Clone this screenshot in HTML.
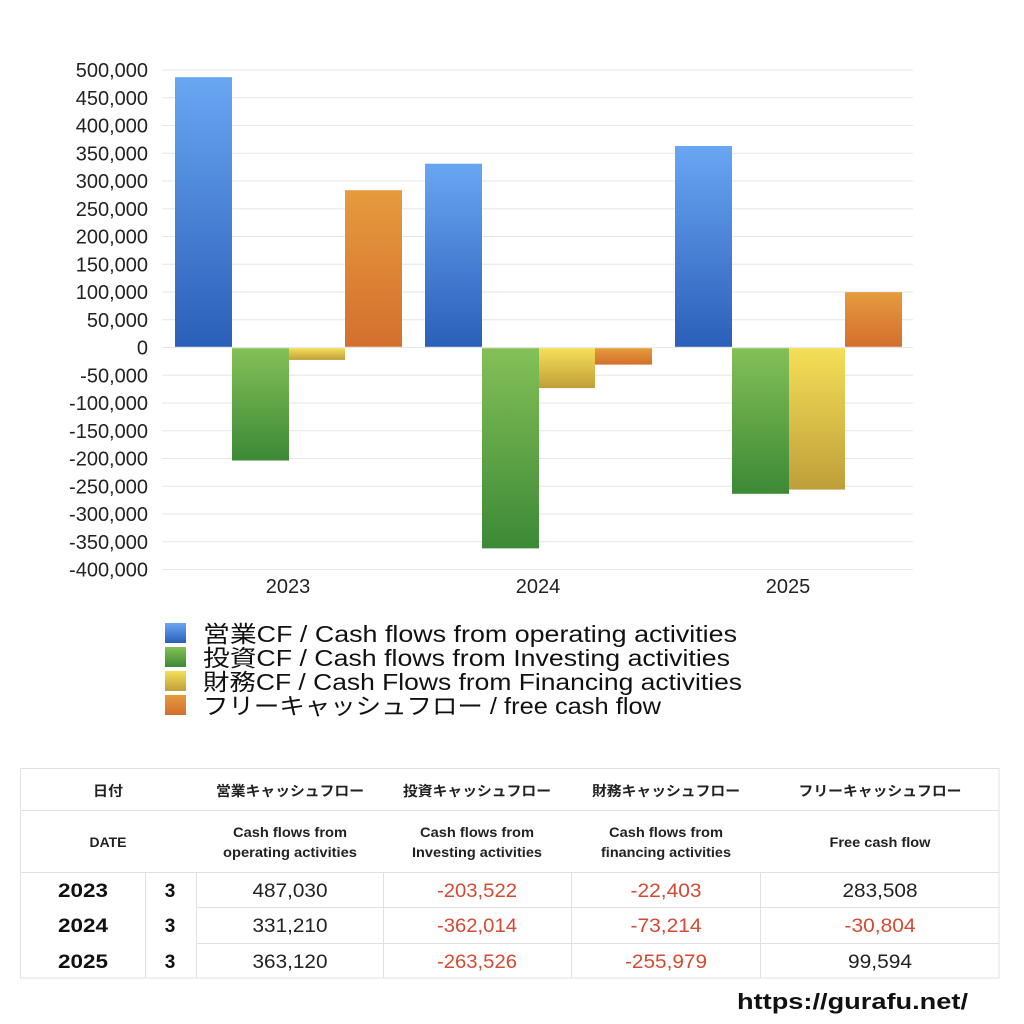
<!DOCTYPE html>
<html><head><meta charset="utf-8"><style>
html,body{margin:0;padding:0;background:#fff;}
svg{display:block;}
text{font-family:"Liberation Sans","Noto Sans CJK JP",sans-serif;}
</style></head><body>
<svg width="1024" height="1024" viewBox="0 0 1024 1024" xmlns="http://www.w3.org/2000/svg">
<defs>
<linearGradient id="gb" x1="0" y1="0" x2="0" y2="1"><stop offset="0" stop-color="#69a6f2"/><stop offset="1" stop-color="#2b5fb9"/></linearGradient>
<linearGradient id="gg" x1="0" y1="0" x2="0" y2="1"><stop offset="0" stop-color="#84c057"/><stop offset="1" stop-color="#3c8936"/></linearGradient>
<linearGradient id="gy" x1="0" y1="0" x2="0" y2="1"><stop offset="0" stop-color="#f4df57"/><stop offset="1" stop-color="#bf9f3a"/></linearGradient>
<linearGradient id="go" x1="0" y1="0" x2="0" y2="1"><stop offset="0" stop-color="#e69b3d"/><stop offset="1" stop-color="#d46f2e"/></linearGradient>
</defs>
<rect width="1024" height="1024" fill="#fff"/>
<!-- gridlines -->
<g stroke="#e6e6e6" stroke-width="1">
<line x1="162" x2="913" y1="70" y2="70"/>
<line x1="162" x2="913" y1="97.75" y2="97.75"/>
<line x1="162" x2="913" y1="125.5" y2="125.5"/>
<line x1="162" x2="913" y1="153.25" y2="153.25"/>
<line x1="162" x2="913" y1="181" y2="181"/>
<line x1="162" x2="913" y1="208.75" y2="208.75"/>
<line x1="162" x2="913" y1="236.5" y2="236.5"/>
<line x1="162" x2="913" y1="264.25" y2="264.25"/>
<line x1="162" x2="913" y1="292" y2="292"/>
<line x1="162" x2="913" y1="319.75" y2="319.75"/>
<line x1="162" x2="913" y1="347.5" y2="347.5"/>
<line x1="162" x2="913" y1="375.25" y2="375.25"/>
<line x1="162" x2="913" y1="403" y2="403"/>
<line x1="162" x2="913" y1="430.75" y2="430.75"/>
<line x1="162" x2="913" y1="458.5" y2="458.5"/>
<line x1="162" x2="913" y1="486.25" y2="486.25"/>
<line x1="162" x2="913" y1="514" y2="514"/>
<line x1="162" x2="913" y1="541.75" y2="541.75"/>
<line x1="162" x2="913" y1="569.5" y2="569.5"/>
</g>
<!-- y labels -->
<g font-size="20" fill="#222" text-anchor="end">
<text x="148" y="77">500,000</text>
<text x="148" y="104.75">450,000</text>
<text x="148" y="132.5">400,000</text>
<text x="148" y="160.25">350,000</text>
<text x="148" y="188">300,000</text>
<text x="148" y="215.75">250,000</text>
<text x="148" y="243.5">200,000</text>
<text x="148" y="271.25">150,000</text>
<text x="148" y="299">100,000</text>
<text x="148" y="326.75">50,000</text>
<text x="148" y="354.5">0</text>
<text x="148" y="382.25">-50,000</text>
<text x="148" y="410">-100,000</text>
<text x="148" y="437.75">-150,000</text>
<text x="148" y="465.5">-200,000</text>
<text x="148" y="493.25">-250,000</text>
<text x="148" y="521">-300,000</text>
<text x="148" y="548.75">-350,000</text>
<text x="148" y="576.5">-400,000</text>
</g>
<!-- bars 2023 -->
<rect x="175" y="77.2" width="57" height="269.6" fill="url(#gb)"/>
<rect x="232" y="348.2" width="57" height="112.3" fill="url(#gg)"/>
<rect x="289" y="348.2" width="56" height="11.7" fill="url(#gy)"/>
<rect x="345" y="190.2" width="57" height="156.6" fill="url(#go)"/>
<!-- bars 2024 -->
<rect x="425" y="163.7" width="57" height="183.1" fill="url(#gb)"/>
<rect x="482" y="348.2" width="57" height="200.2" fill="url(#gg)"/>
<rect x="539" y="348.2" width="56" height="39.9" fill="url(#gy)"/>
<rect x="595" y="348.2" width="57" height="16.4" fill="url(#go)"/>
<!-- bars 2025 -->
<rect x="675" y="146" width="57" height="200.8" fill="url(#gb)"/>
<rect x="732" y="348.2" width="57" height="145.6" fill="url(#gg)"/>
<rect x="789" y="348.2" width="56" height="141.4" fill="url(#gy)"/>
<rect x="845" y="292.2" width="57" height="54.6" fill="url(#go)"/>
<!-- x labels -->
<g font-size="20" fill="#222" text-anchor="middle">
<text x="288" y="593">2023</text>
<text x="538" y="593">2024</text>
<text x="788" y="593">2025</text>
</g>
<!-- legend -->
<rect x="165" y="623" width="21" height="20" fill="url(#gb)"/>
<rect x="165" y="647" width="21" height="20" fill="url(#gg)"/>
<rect x="165" y="671" width="21" height="20" fill="url(#gy)"/>
<rect x="165" y="695" width="21" height="20" fill="url(#go)"/>
<g font-size="23" fill="#111">
<text x="203" y="642" textLength="534" lengthAdjust="spacingAndGlyphs">営業CF / Cash flows from operating activities</text>
<text x="203" y="666" textLength="527" lengthAdjust="spacingAndGlyphs">投資CF / Cash flows from Investing activities</text>
<text x="203" y="690" textLength="539" lengthAdjust="spacingAndGlyphs">財務CF / Cash Flows from Financing activities</text>
<text x="203" y="714" textLength="458" lengthAdjust="spacingAndGlyphs">フリーキャッシュフロー / free cash flow</text>
</g>
<!-- table lines -->
<g stroke="#e0e0e0" stroke-width="1" fill="none">
<rect x="20.5" y="768.5" width="978.5" height="209.5"/>
<line x1="20" x2="999" y1="810.5" y2="810.5"/>
<line x1="20" x2="999" y1="872.5" y2="872.5"/>
<line x1="197" x2="999" y1="907.5" y2="907.5"/>
<line x1="197" x2="999" y1="943.5" y2="943.5"/>
<line x1="145.5" x2="145.5" y1="872" y2="978"/>
<line x1="196.5" x2="196.5" y1="872" y2="978"/>
<line x1="383.5" x2="383.5" y1="872" y2="978"/>
<line x1="571.5" x2="571.5" y1="872" y2="978"/>
<line x1="760.5" x2="760.5" y1="872" y2="978"/>
</g>
<!-- table header -->
<g font-size="14" font-weight="bold" fill="#222" text-anchor="middle">
<text x="108" y="796" textLength="30" lengthAdjust="spacingAndGlyphs">日付</text>
<text x="290" y="796" textLength="148" lengthAdjust="spacingAndGlyphs">営業キャッシュフロー</text>
<text x="477" y="796" textLength="148" lengthAdjust="spacingAndGlyphs">投資キャッシュフロー</text>
<text x="666" y="796" textLength="148" lengthAdjust="spacingAndGlyphs">財務キャッシュフロー</text>
<text x="880" y="796" textLength="163" lengthAdjust="spacingAndGlyphs">フリーキャッシュフロー</text>
</g>
<g font-size="13.5" font-weight="bold" fill="#222" text-anchor="middle">
<text x="108" y="847" textLength="37" lengthAdjust="spacingAndGlyphs">DATE</text>
<text x="290" y="837" textLength="114" lengthAdjust="spacingAndGlyphs">Cash flows from</text>
<text x="290" y="857" textLength="134" lengthAdjust="spacingAndGlyphs">operating activities</text>
<text x="477" y="837" textLength="114" lengthAdjust="spacingAndGlyphs">Cash flows from</text>
<text x="477" y="857" textLength="130" lengthAdjust="spacingAndGlyphs">Investing activities</text>
<text x="666" y="837" textLength="114" lengthAdjust="spacingAndGlyphs">Cash flows from</text>
<text x="666" y="857" textLength="130" lengthAdjust="spacingAndGlyphs">financing activities</text>
<text x="880" y="847" textLength="101" lengthAdjust="spacingAndGlyphs">Free cash flow</text>
</g>
<!-- table data -->
<g font-size="19" font-weight="bold" fill="#111" text-anchor="middle">
<text x="83" y="897" textLength="50" lengthAdjust="spacingAndGlyphs">2023</text>
<text x="83" y="932" textLength="50" lengthAdjust="spacingAndGlyphs">2024</text>
<text x="83" y="968" textLength="50" lengthAdjust="spacingAndGlyphs">2025</text>
<text x="170" y="897">3</text>
<text x="170" y="932">3</text>
<text x="170" y="968">3</text>
</g>
<g font-size="19" fill="#222" text-anchor="middle">
<text x="290" y="897" textLength="75" lengthAdjust="spacingAndGlyphs">487,030</text>
<text x="290" y="932" textLength="75" lengthAdjust="spacingAndGlyphs">331,210</text>
<text x="290" y="968" textLength="75" lengthAdjust="spacingAndGlyphs">363,120</text>
<text x="880" y="897" textLength="75" lengthAdjust="spacingAndGlyphs">283,508</text>
<text x="880" y="968" textLength="64" lengthAdjust="spacingAndGlyphs">99,594</text>
</g>
<g font-size="19" fill="#d44a32" text-anchor="middle">
<text x="477" y="897" textLength="80" lengthAdjust="spacingAndGlyphs">-203,522</text>
<text x="477" y="932" textLength="80" lengthAdjust="spacingAndGlyphs">-362,014</text>
<text x="477" y="968" textLength="80" lengthAdjust="spacingAndGlyphs">-263,526</text>
<text x="666" y="897" textLength="71" lengthAdjust="spacingAndGlyphs">-22,403</text>
<text x="666" y="932" textLength="71" lengthAdjust="spacingAndGlyphs">-73,214</text>
<text x="666" y="968" textLength="82" lengthAdjust="spacingAndGlyphs">-255,979</text>
<text x="880" y="932" textLength="71" lengthAdjust="spacingAndGlyphs">-30,804</text>
</g>
<!-- url -->
<text x="737" y="1009" font-size="22" font-weight="bold" fill="#111" textLength="231" lengthAdjust="spacingAndGlyphs">https://gurafu.net/</text>
</svg>
</body></html>
